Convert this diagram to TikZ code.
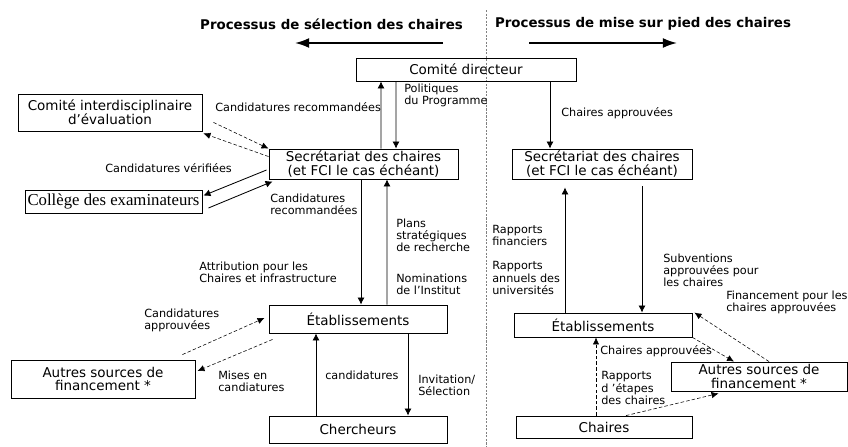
\documentclass[tikz,border=0pt]{standalone}
\usepackage{fontspec}
\setmainfont{DejaVu Sans}
\newfontfamily\timesfont{Liberation Serif}
\usetikzlibrary{arrows.meta,calc}

\begin{document}
\begin{tikzpicture}[x=0.025cm,y=-0.025cm]

\tikzset{box/.style = {draw, line width=0.6pt, inner sep=1pt, align=center, font=\fontsize{9.6}{9.9}\selectfont}}
\tikzset{lbl/.style = {anchor=west, inner sep=0pt, align=left, font=\fontsize{8}{8.6}\selectfont}}
\tikzset{arr/.style = {-{Latex[length=5pt,width=5pt]}, line width=0.6pt}}
\tikzset{darr/.style = {-{Latex[length=5pt,width=4.5pt]}, line width=0.4pt, dash pattern=on 2.5pt off 1.5pt}}
\tikzset{head/.style = {font=\bfseries\fontsize{9.5}{10}\selectfont}}
\tikzset{bigarr/.style = {-{Latex[length=10pt,width=7pt]}, line width=1.2pt}}

\useasboundingbox (0,0) rectangle (848,447);

%titles
\node[head] (hsel) at (331.5,24) {Processus de sélection des chaires};
\node[head] (hmise) at (643,24) {Processus de mise sur pied des chaires};
\coordinate (selA) at (443,43);
\coordinate (selB) at (295,43);
\coordinate (miseA) at (529,43);
\coordinate (miseB) at (677,43);
\draw[bigarr] (selA) -- (selB);
\draw[bigarr] (miseA) -- (miseB);
\coordinate (sepT) at (486,10);
\coordinate (sepB) at (486,447);
\draw[gray, line width=0.4pt, dash pattern=on 1.5pt off 1pt] (sepT) -- (sepB);

%boxes
\node[box, minimum width=5.5cm, minimum height=0.575cm] (cd) at (466,69.5) {Comité directeur};
\node[box, minimum width=4.6cm, minimum height=0.925cm] (cie) at (110,112.5) {Comité interdisciplinaire\\d’évaluation};
\node[box, minimum width=4.725cm, minimum height=0.75cm] (sec1) at (363.5,164) {Secrétariat des chaires\\(et FCI le cas échéant)};
\node[box, minimum width=4.425cm, minimum height=0.575cm, font=\timesfont\fontsize{11.9}{12}\selectfont] (col) at (113.5,201.5) {Collège des examinateurs};
\node[box, minimum width=4.45cm, minimum height=0.7cm] (etab1) at (358,319) {Établissements};
\node[box, minimum width=4.45cm, minimum height=0.675cm] (cherch) at (358,429.5) {Chercheurs};
\node[box, minimum width=4.6cm, minimum height=0.95cm] (aut1) at (103,379) {Autres sources de\\financement *};
\node[box, minimum width=4.5cm, minimum height=0.75cm] (sec2) at (602,164) {Secrétariat des chaires\\(et FCI le cas échéant)};
\node[box, minimum width=4.45cm, minimum height=0.6cm] (etab2) at (603,325) {Établissements};
\node[box, minimum width=4.4cm, minimum height=0.725cm] (aut2) at (759,376.5) {Autres sources de\\financement *};
\node[box, minimum width=4.4cm, minimum height=0.55cm] (chaires) at (604,427) {Chaires};

%labels
\node[lbl] (lpol) at (404,95.5) {Politiques\\du Programme};
\node[lbl] (lcr1) at (215,107) {Candidatures recommandées};
\node[lbl] (lverif) at (105,168) {Candidatures vérifiées};
\node[lbl] (lcr2) at (270,204.5) {Candidatures\\recommandées};
\node[lbl] (lattr) at (199,272) {Attribution pour les\\Chaires et infrastructure};
\node[lbl] (lplans) at (396,235) {Plans\\stratégiques\\de recherche};
\node[lbl] (lnom) at (396,284.5) {Nominations\\de l’Institut};
\node[lbl] (lcapp) at (144,320) {Candidatures\\approuvées};
\node[lbl] (lmises) at (218,381) {Mises en\\candiatures};
\node[lbl] (lcand) at (325,375) {candidatures};
\node[lbl] (linv) at (418,385) {Invitation/\\Sélection};
\node[lbl] (lchapp1) at (561,113) {Chaires approuvées};
\node[lbl] (lrf) at (492,235.5) {Rapports\\financiers};
\node[lbl] (lra) at (492,278) {Rapports\\annuels des\\universités};
\node[lbl] (lsub) at (663,270) {Subventions\\approuvées pour\\les chaires};
\node[lbl] (lfin) at (726,302) {Financement pour les\\chaires approuvées};
\node[lbl] (lchapp2) at (600,351) {Chaires approuvées};
\node[lbl] (lret) at (601,388) {Rapports\\d ’étapes\\des chaires};

%edges, selection
\draw[arr] ($(sec1.north)+(17.5,0)$) -- ($(cd.south)+(-85,0)$);
\draw[arr] ($(cd.south)+(-70,0)$) -- ($(sec1.north)+(32.5,0)$);
\draw[darr] ($(cie.south east)+(11,-9)$) -- (sec1.north west);
\draw[darr] ($(sec1.north west)+(0,8)$) -- ($(cie.south east)+(1,2)$);
\draw[arr] ($(sec1.west)+(-2,6)$) -- ($(col.north east)+(1,6)$);
\draw[arr] ($(col.east)+(6,6.5)$) -- ($(sec1.south west)+(4,2)$);
\draw[arr] ($(sec1.south)+(-2.5,0)$) -- ($(etab1.north)+(3,0)$);
\draw[arr] ($(etab1.north)+(29,0)$) -- ($(sec1.south)+(23.5,0)$);
\draw[darr] ($(aut1.north east)+(-13,-5)$) -- ($(etab1.west)+(-4,-1)$);
\draw[darr] ($(etab1.south west)+(4,6)$) -- ($(aut1.east)+(2,-8)$);
\draw[arr] ($(cherch.north)+(-42,0)$) -- ($(etab1.south)+(-42,0)$);
\draw[arr] ($(etab1.south)+(50,0)$) -- ($(cherch.north)+(50,0)$);

%edges, mise sur pied
\draw[arr] ($(cd.south)+(84,0)$) -- ($(sec2.north)+(-52,0)$);
\draw[arr, shorten >=5.7pt] ($(etab2.north)+(-38,0)$) -- ($(sec2.south)+(-37,0)$);
\draw[arr, shorten <=5pt] ($(sec2.south)+(40,0)$) -- ($(etab2.north)+(39,0)$);
\draw[darr] ($(aut2.north)+(10,0)$) -- ($(etab2.north east)+(2,0)$);
\draw[darr] (etab2.south east) -- ($(aut2.north)+(-25,0)$);
\draw[darr] ($(chaires.north)+(-8,0)$) -- ($(etab2.south)+(-7,0)$);
\draw[darr] ($(chaires.north)+(22,0)$) -- ($(aut2.south west)+(48,2)$);

\end{tikzpicture}
\end{document}
